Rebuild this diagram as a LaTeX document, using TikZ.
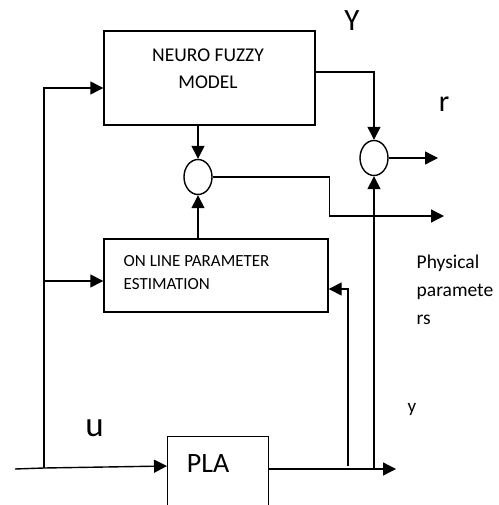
\documentclass[tikz,border=0pt]{standalone}
\usepackage{fontspec}
\setmainfont{Carlito}
\usetikzlibrary{arrows.meta,shapes.geometric}

\begin{document}
\begin{tikzpicture}[x=1pt,y=-1pt,
    line width=1.4pt,
    block/.style={draw, rectangle, inner sep=0pt},
    summer/.style={draw, ellipse, inner sep=0pt, minimum width=28pt, minimum height=35pt},
    arr/.style={-{Triangle[length=13pt,width=13pt]}},
    lbl/.style={inner sep=0pt}]
    \useasboundingbox (0,0) rectangle (498,505);
    \clip (0,0) rectangle (498,505);

    % blocks
    \node[block, minimum width=211pt, minimum height=94pt] (nfm) at (209.5,78) {};
    \node[lbl, align=center, font=\fontsize{19.5}{27}\selectfont] (nfmtext) at (208,68.5) {NEURO FUZZY\\MODEL};
    \node[block, minimum width=224pt, minimum height=73pt] (olpe) at (216,275.5) {};
    \node[lbl, anchor=west, align=left, font=\fontsize{17}{23}\selectfont] (olpetext) at (123,272.5) {ON LINE PARAMETER\\ESTIMATION};
    \node[block, anchor=north west, minimum width=101pt, minimum height=90pt] (pla) at (167,436) {};
    \node[lbl, font=\fontsize{28}{30}\selectfont] (platext) at (208,464) {PLA};
    \node[summer] (sum1) at (198,177) {};
    \node[summer] (sum2) at (374,158) {};

    % free ends
    \coordinate (in) at (15,469);
    \coordinate (split) at (44,468);
    \coordinate (plain) at ([yshift=-30pt]pla.north west);
    \coordinate (nfmin) at ([yshift=-10pt]nfm.west);
    \coordinate (olpein) at ([yshift=-5.5pt]olpe.west);
    \coordinate (yout) at (396,469);
    \coordinate (rout) at (438,158);
    \coordinate (pout) at (444,216);
    \coordinate (fbup) at (348,469);

    % connectors
    \draw (in) -- (split);
    \draw[arr] (split) -- (plain);
    \draw[arr] (split) |- (nfmin);
    \draw[arr] (split |- olpein) -- (olpein);
    \draw[arr] (sum1.north |- nfm.south) -- (sum1.north);
    \draw[arr] (sum1.south |- olpe.north) -- (sum1.south);
    \draw[arr] (sum1.east) -- ++(117,0) |- (pout);
    \draw[arr] ([yshift=6pt]nfm.east) -| (sum2.north);
    \draw[arr] (sum2.east) -- (rout);
    \draw[arr] ([yshift=-33pt]pla.north east) -- (yout);
    \draw[arr] (sum2.south |- yout) -- (sum2.south);
    \draw[arr] ([yshift=3pt]fbup) |- ([yshift=-13.5pt]olpe.east);

    % labels
    \node[lbl, font=\fontsize{31}{33}\selectfont] (ylbl) at (352,21) {Y};
    \node[lbl, font=\fontsize{30}{32}\selectfont] (rlbl) at (444,104) {r};
    \node[lbl, font=\fontsize{35}{37}\selectfont] (ulbl) at (94.5,428) {u};
    \node[lbl, font=\fontsize{19}{21}\selectfont] (youtlbl) at (412,409) {y};
    \node[lbl, anchor=west, align=left, font=\fontsize{19.5}{28}\selectfont] (physlbl) at (416,290) {Physical\\paramete\\rs};
\end{tikzpicture}
\end{document}
